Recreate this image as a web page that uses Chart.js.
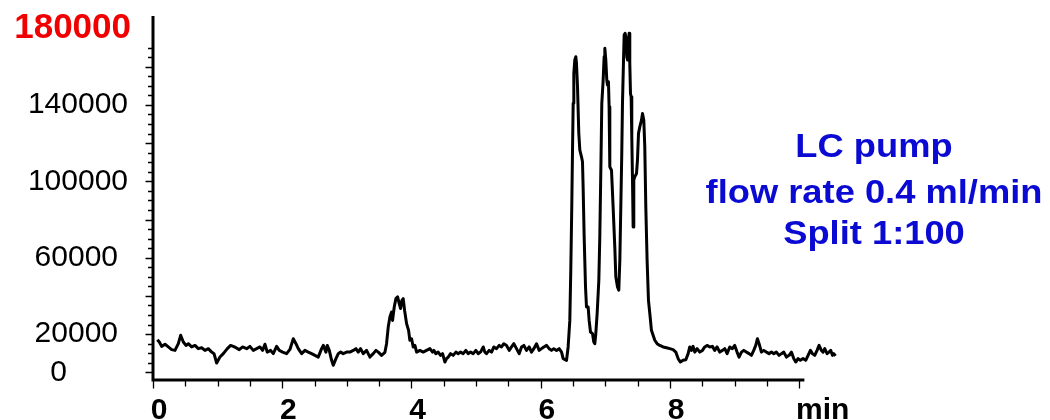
<!DOCTYPE html>
<html>
<head>
<meta charset="utf-8">
<title>LC pump trace</title>
<script src="https://cdn.jsdelivr.net/npm/chart.js@4.4.1/dist/chart.umd.min.js"></script>
<style>
  html, body { margin: 0; padding: 0; background: #fff; }
  canvas { display: block; }
</style>
</head>
<body>
<canvas id="trace-chart" width="1050" height="420"></canvas>
<script>
// Retention time (min) and detector signal
const retentionTime = [
  0.067, 0.098, 0.134, 0.186, 0.237, 0.289, 0.340, 0.392, 0.428, 0.469,
  0.510, 0.546, 0.598, 0.650, 0.701, 0.753, 0.804, 0.856, 0.908, 0.944,
  0.985, 1.036, 1.088, 1.150, 1.201, 1.242, 1.284, 1.335, 1.387, 1.449,
  1.500, 1.552, 1.604, 1.655, 1.696, 1.732, 1.768, 1.820, 1.861, 1.913,
  1.954, 2.006, 2.068, 2.119, 2.171, 2.212, 2.248, 2.300, 2.351, 2.403,
  2.454, 2.506, 2.557, 2.609, 2.635, 2.676, 2.697, 2.728, 2.764, 2.790,
  2.831, 2.867, 2.903, 2.944, 2.996, 3.047, 3.099, 3.140, 3.176, 3.212,
  3.253, 3.305, 3.357, 3.408, 3.450, 3.486, 3.537, 3.589, 3.614, 3.640,
  3.666, 3.692, 3.707, 3.733, 3.759, 3.785, 3.810, 3.831, 3.852, 3.872,
  3.893, 3.924, 3.955, 3.975, 4.001, 4.027, 4.053, 4.079, 4.130, 4.181,
  4.233, 4.285, 4.326, 4.346, 4.377, 4.413, 4.450, 4.481, 4.517, 4.543,
  4.568, 4.605, 4.645, 4.687, 4.723, 4.759, 4.800, 4.841, 4.877, 4.914,
  4.955, 4.996, 5.032, 5.069, 5.110, 5.135, 5.161, 5.202, 5.239, 5.275,
  5.316, 5.357, 5.393, 5.429, 5.471, 5.512, 5.548, 5.584, 5.625, 5.666,
  5.703, 5.739, 5.780, 5.821, 5.857, 5.893, 5.935, 5.976, 6.012, 6.048,
  6.090, 6.130, 6.167, 6.203, 6.244, 6.285, 6.322, 6.347, 6.399, 6.424,
  6.450, 6.465, 6.481, 6.491, 6.502, 6.512, 6.527, 6.543, 6.553, 6.569,
  6.589, 6.605, 6.631, 6.646, 6.656, 6.672, 6.693, 6.708, 6.734, 6.749,
  6.770, 6.801, 6.821, 6.837, 6.852, 6.873, 6.899, 6.914, 6.930, 6.945,
  6.966, 6.981, 6.992, 7.007, 7.022, 7.033, 7.048, 7.058, 7.069, 7.095,
  7.120, 7.146, 7.162, 7.188, 7.208, 7.224, 7.239, 7.254, 7.265, 7.281,
  7.291, 7.306, 7.322, 7.332, 7.343, 7.353, 7.368, 7.378, 7.389, 7.399,
  7.409, 7.420, 7.430, 7.440, 7.455, 7.482, 7.497, 7.513, 7.533, 7.559,
  7.575, 7.595, 7.610, 7.626, 7.646, 7.667, 7.688, 7.713, 7.765, 7.801,
  7.842, 7.894, 7.946, 7.997, 8.048, 8.090, 8.126, 8.162, 8.203, 8.245,
  8.281, 8.306, 8.332, 8.357, 8.384, 8.420, 8.461, 8.502, 8.538, 8.574,
  8.616, 8.657, 8.693, 8.729, 8.770, 8.812, 8.848, 8.884, 8.925, 8.966,
  9.002, 9.038, 9.069, 9.106, 9.142, 9.183, 9.224, 9.260, 9.296, 9.327,
  9.353, 9.379, 9.415, 9.451, 9.492, 9.533, 9.570, 9.606, 9.647, 9.688,
  9.725, 9.761, 9.802, 9.843, 9.879, 9.915, 9.946, 9.982, 10.018, 10.059,
  10.101, 10.137, 10.173, 10.204, 10.240, 10.276, 10.307, 10.343, 10.369, 10.395,
  10.431, 10.462, 10.488, 10.514, 10.534, 10.561
];
const intensity = [
  17100, 15900, 13600, 14700, 13300, 11900, 11500, 15000, 19400, 15900,
  14100, 15000, 13300, 14100, 12400, 12900, 11500, 12400, 10600, 9800,
  4900, 8000, 9800, 12400, 14100, 13600, 12900, 11900, 13300, 12400,
  13600, 11500, 12400, 13300, 11500, 14700, 10600, 11500, 9800, 13600,
  11500, 10600, 9800, 12000, 17600, 15000, 12400, 9800, 11500, 10600,
  9800, 8900, 8000, 12400, 14100, 10600, 14100, 11500, 6300, 3700,
  7200, 9800, 10600, 9800, 10600, 10600, 11500, 12400, 10600, 12400,
  9800, 11500, 8000, 9800, 11500, 10600, 8900, 10500, 15000, 23700,
  29000, 31600, 27200, 34200, 38600, 39500, 36000, 33400, 37700, 38600,
  32500, 25500, 22000, 16800, 17600, 13300, 14100, 10600, 11500, 10600,
  11500, 12400, 10600, 11500, 9800, 10600, 8900, 9800, 5400, 7200,
  8000, 9800, 8900, 10600, 9800, 10600, 9800, 11500, 9800, 10600,
  9800, 11500, 9800, 10600, 13300, 10600, 9800, 11500, 10600, 13300,
  12400, 14100, 13300, 15000, 14100, 11500, 13300, 15000, 12400, 9800,
  13300, 14100, 11500, 13300, 10600, 12400, 15000, 11500, 12400, 13300,
  14100, 12400, 11500, 12400, 11500, 12400, 10600, 7200, 6300, 13300,
  27200, 53400, 88400, 114600, 140800, 156500, 163500, 165200, 161800, 149500,
  125100, 116300, 112800, 110200, 97100, 70900, 44700, 34200, 34200, 27200,
  21100, 20300, 15900, 15000, 20300, 30800, 48200, 70900, 105800, 140800,
  153000, 165200, 169600, 163500, 153000, 150400, 152100, 139000, 107600, 105800,
  86600, 65700, 49900, 44700, 43000, 58700, 86600, 114600, 140800, 163500,
  176600, 177500, 174900, 165200, 163500, 170500, 177500, 161800, 146000, 144300,
  123300, 100600, 76100, 100600, 102300, 104100, 111100, 125100, 128500, 132000,
  135500, 132000, 118100, 86600, 58700, 37700, 30800, 22000, 16800, 15000,
  14100, 13300, 12900, 12400, 11900, 10600, 7200, 5400, 6300, 6600,
  9800, 13300, 11500, 13600, 10600, 12400, 10600, 11500, 13300, 14100,
  13300, 13600, 11500, 13300, 10600, 11500, 12400, 9800, 13300, 12400,
  14100, 10600, 8000, 10600, 11500, 10600, 9800, 8900, 11500, 14100,
  17600, 15000, 10600, 11500, 10600, 9800, 10600, 9800, 10600, 8900,
  9800, 10600, 8000, 8900, 10600, 7200, 5400, 7200, 6300, 7200,
  6300, 8900, 11500, 9800, 8900, 11500, 14100, 11500, 10600, 12400,
  9800, 10600, 11500, 8900, 9800, 8600
];

// Axis labels and annotation
const yTickLabels = [0, 20000, 60000, 100000, 140000, 180000];
const xTickLabels = [0, 2, 4, 6, 8];
const xUnitLabel = 'min';
const noteLines = ['LC pump', 'flow rate 0.4 ml/min', 'Split 1:100'];

const FONT = '"Liberation Sans", Arial, sans-serif';

// Axes, ticks and labels are drawn by hand on top of the library's scales
const handAxes = {
  id: 'handAxes',
  afterDatasetsDraw(chart) {
    const { ctx, chartArea, scales: { x, y } } = chart;
    const x0 = x.getPixelForValue(0);
    const xEnd = x.getPixelForValue(10.08);
    const yBottom = chartArea.bottom;

    ctx.save();
    ctx.strokeStyle = '#000';
    ctx.lineCap = 'butt';

    // axis lines
    ctx.lineWidth = 3;
    ctx.beginPath();
    ctx.moveTo(x0, chartArea.top - 1);
    ctx.lineTo(x0, yBottom + 1.5);
    ctx.moveTo(x0 - 1.5, yBottom);
    ctx.lineTo(xEnd, yBottom);
    ctx.stroke();

    // y ticks every 5000, longer every 20000
    ctx.lineWidth = 1.3;
    ctx.beginPath();
    for (let v = 0; v <= 170000; v += 5000) {
      const py = Math.round(y.getPixelForValue(v)) + 0.5;
      const len = v % 20000 === 0 ? 6 : 3.5;
      ctx.moveTo(x0 - 1.5 - len, py);
      ctx.lineTo(x0, py);
    }
    // x ticks every 0.5 min, longer every 2 min
    for (let t = 0; t <= 10; t += 0.5) {
      const px = Math.round(x.getPixelForValue(t)) + 0.5;
      const len = t % 2 === 0 ? 7 : 5;
      ctx.moveTo(px, yBottom);
      ctx.lineTo(px, yBottom + 1.5 + len);
    }
    ctx.stroke();

    // y tick labels (right edges as in the original layout)
    const yLabelRight = { 0: 67, 20000: 118, 60000: 118, 100000: 128, 140000: 128, 180000: 131 };
    ctx.textAlign = 'right';
    ctx.textBaseline = 'middle';
    yTickLabels.forEach(v => {
      const py = y.getPixelForValue(v);
      if (v === 180000) {
        ctx.font = 'bold 35px ' + FONT;
        ctx.fillStyle = '#f00000';
      } else {
        ctx.font = '30px ' + FONT;
        ctx.fillStyle = '#000';
      }
      ctx.fillText(String(v), yLabelRight[v], py);
    });

    // x tick labels
    ctx.font = 'bold 30px ' + FONT;
    ctx.fillStyle = '#000';
    ctx.textAlign = 'center';
    ctx.textBaseline = 'alphabetic';
    xTickLabels.forEach(t => {
      ctx.fillText(String(t), x.getPixelForValue(t) + 6, 419);
    });
    ctx.textAlign = 'left';
    ctx.fillText(xUnitLabel, 796, 419);

    // annotation: wide bold text, centred on one column
    ctx.fillStyle = '#0a0ad2';
    ctx.font = 'bold 33px ' + FONT;
    ctx.textAlign = 'center';
    const noteCenter = 874;
    const noteBase = [157, 203, 244];
    noteLines.forEach((line, i) => {
      ctx.save();
      ctx.translate(noteCenter, noteBase[i]);
      ctx.scale(1.1, 1);
      ctx.fillText(line, 0, 0);
      ctx.restore();
    });

    ctx.restore();
  }
};

new Chart(document.getElementById('trace-chart'), {
  type: 'line',
  data: {
    datasets: [{
      data: retentionTime.map((t, i) => ({ x: t, y: intensity[i] })),
      borderColor: '#000',
      borderWidth: 3,
      borderJoinStyle: 'round',
      pointRadius: 0,
      tension: 0,
      fill: false,
    }],
  },
  options: {
    responsive: false,
    animation: false,
    devicePixelRatio: 1,
    layout: { padding: { left: 153, right: 212, top: 17, bottom: 40 } },
    plugins: { legend: { display: false }, tooltip: { enabled: false } },
    scales: {
      x: { type: 'linear', min: 0, max: 10.6, display: false },
      y: { min: -4000, max: 186000, display: false },
    },
  },
  plugins: [handAxes],
});
</script>
</body>
</html>
